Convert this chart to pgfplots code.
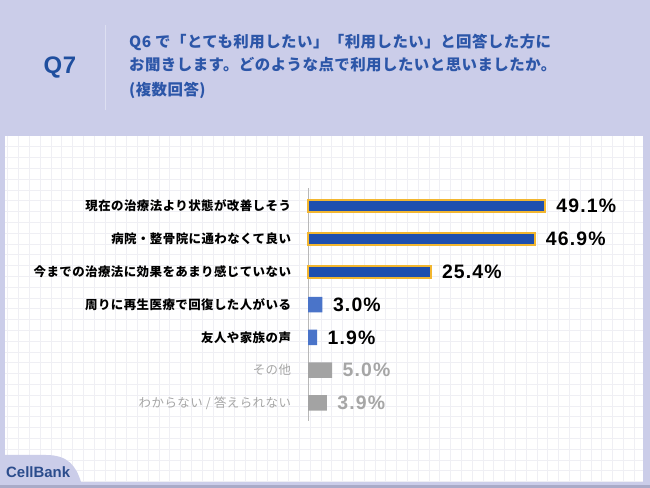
\documentclass[border=0pt]{standalone}
\usepackage{pgfplots}
\pgfplotsset{compat=1.18}
\usepackage{fontspec}
\setmainfont{Liberation Sans}
\newfontfamily\jplab[LetterSpace=3.5]{Noto Sans CJK JP}
\newfontfamily\jphead[LetterSpace=3]{Noto Sans CJK JP}
\newfontfamily\numf[LetterSpace=6]{Liberation Sans}
\newfontfamily\qf[LetterSpace=3]{Liberation Sans}
\definecolor{bg}{HTML}{CBCDE9}
\definecolor{navy}{HTML}{1F4E9E}
\definecolor{headtxt}{HTML}{2C56A8}
\definecolor{barblue}{HTML}{1E4FAF}
\definecolor{barlight}{HTML}{4A74C9}
\definecolor{bargray}{HTML}{A3A3A3}
\definecolor{orangeb}{HTML}{F2B630}
\definecolor{gridc}{HTML}{EFEFF4}
\definecolor{labgray}{HTML}{A6A6A6}
\definecolor{logo}{HTML}{2B4C8C}
\definecolor{strip}{HTML}{A9ABC8}
\begin{document}
\begin{tikzpicture}[x=1bp,y=1bp]
\path[use as bounding box] (0,0) rectangle (650,488);
\fill[bg] (0,0) rectangle (650,488);
\fill[strip] (0,0) rectangle (650,3);
\fill[white] (5,6) rectangle (643,352);
\begin{scope}
\clip (5,6) rectangle (643,352);
\foreach \i in {0,...,59} \draw[gridc, line width=0.6bp] ({7.7+10.8*\i},6) -- ({7.7+10.8*\i},352);
\foreach \k in {1,...,32} \draw[gridc, line width=0.6bp] (5,{488-136-10.8*\k}) -- (643,{488-136-10.8*\k});
\end{scope}
% logo tab
\fill[bg] (0,3) -- (0,33) -- (46,33) .. controls (68,33) and (76,22) .. (81,6) -- (81,3) -- cycle;
\node[anchor=base west, inner sep=0, text=logo, font=\bfseries\fontsize{15}{15}\selectfont] at (6,10) {CellBank};
% header
\node[text=navy, font=\qf\bfseries\fontsize{24}{24}\selectfont] at (60,420) {Q7};
\draw[color=white!35!bg, line width=1bp] (105,463) -- (105,378);
\node[anchor=west, inner sep=0, text=headtxt, font=\jphead\bfseries\fontsize{15.5}{15.5}\selectfont] at (129,446) {Q6 で「とても利用したい」「利用したい」と回答した方に};
\node[anchor=west, inner sep=0, text=headtxt, font=\jphead\bfseries\fontsize{15.5}{15.5}\selectfont] at (129,423) {お聞きします。どのような点で利用したいと思いましたか。};
\node[anchor=west, inner sep=0, text=headtxt, font=\jphead\bfseries\fontsize{15.5}{15.5}\selectfont] at (129,398) {(複数回答)};
\begin{axis}[
  at={(308bp,67bp)}, anchor=south west,
  scale only axis, width=289.8bp, height=232.9bp,
  xmin=0, xmax=60, ymin=-0.55, ymax=6.55, y dir=reverse,
  axis x line=none, axis y line*=left,
  axis line style={draw=black!28, line width=0.8bp},
  xtick=\empty,
  ytick={0,1,2,3,4,5,6},
  yticklabels={{\bfseries 現在の治療法より状態が改善しそう},
               {\bfseries 病院・整骨院に通わなくて良い},
               {\bfseries 今までの治療法に効果をあまり感じていない},
               {\bfseries 周りに再生医療で回復した人がいる},
               {\bfseries 友人や家族の声},
               {\color{labgray}その他},
               {\color{labgray}わからない / 答えられない}},
  major tick length=0,
  yticklabel style={font=\jplab\fontsize{12.5}{12.5}\selectfont, anchor=east, xshift=-13.5bp},
  xbar, bar shift=0pt,
  clip=false,
  point meta=x,
  /pgf/number format/assume math mode=true,
  nodes near coords={\pgfmathprintnumber[fixed,fixed zerofill,precision=1,assume math mode=true]{\pgfplotspointmeta}\%},
  nodes near coords style={anchor=west, font=\numf\bfseries\fontsize{19.5}{19.5}\selectfont, xshift=7bp, text=black},
]
\addplot[fill=barblue, draw=orangeb, line width=2bp, bar width=12bp] coordinates {(49.1,0) (46.9,1) (25.4,2)};
\addplot[fill=barlight, draw=none, bar width=15.5bp] coordinates {(3.0,3) (1.9,4)};
\addplot[fill=bargray, draw=none, bar width=15.5bp, nodes near coords style={text=labgray}] coordinates {(5.0,5) (3.9,6)};
\end{axis}
\end{tikzpicture}
\end{document}
